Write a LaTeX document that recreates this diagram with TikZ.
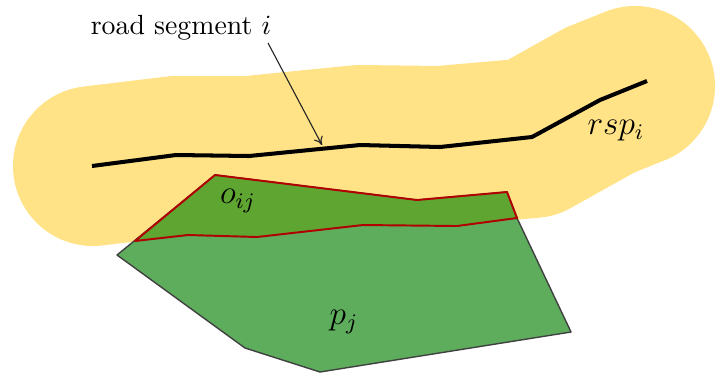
\documentclass[tikz,border=0pt]{standalone}
\usetikzlibrary{arrows.meta}
\definecolor{bufyellow}{HTML}{FFE386}
\definecolor{polygreen}{HTML}{5DAD5D}
\definecolor{overgreen}{HTML}{5EA532}
\definecolor{overred}{HTML}{B00000}
\tikzset{
  buffer/.style={draw=bufyellow, line width=57.6pt, line cap=round, line join=round},
  polygon/.style={fill=polygreen, draw=black!75, line width=0.5pt, line join=round},
  overlap/.style={fill=overgreen, draw=overred, line width=0.7pt, line join=round},
  road/.style={draw=black, line width=1.45pt, line join=round},
  pointer/.style={draw=black!85, line width=0.4pt, -{To[length=3pt,width=3.5pt]}},
  lbl/.style={inner sep=0pt},
}
\begin{document}
\begin{tikzpicture}[x=0.36pt, y=-0.36pt]
\useasboundingbox (0,0) rectangle (718,381);
% buffer around the road segment
\path[buffer] (93,166) -- (176,156) -- (249,156) -- (360,145) -- (440,146)
  -- (532,138) -- (600,100) -- (635,86);
% polygon p_j
\path[polygon] (117,255) -- (215,175) -- (417,200) -- (507,192) -- (517,218)
  -- (571,332) -- (320,372) -- (245,348) -- cycle;
% overlap o_ij
\path[overlap] (135,241) -- (215,175) -- (417,200) -- (507,192) -- (517,218)
  -- (457,226) -- (363,225) -- (257,237) -- (188,235) -- cycle;
% road
\draw[road] (92,166) -- (176,155) -- (249,156) -- (360,145) -- (440,147)
  -- (532,137) -- (600,100) -- (647,81);
% labels
\node[lbl] (seg) at (181,28) {road segment $i$};
\node[lbl] (rsp) at (616,131) {\large $rsp_i$};
\node[lbl] (oij) at (238,201) {\large $o_{ij}$};
\node[lbl] (pj) at (344,322) {\large $p_j$};
\coordinate (astart) at (268,43);
\coordinate (aend) at (322,145);
\draw[pointer] (astart) -- (aend);
\end{tikzpicture}
\end{document}
